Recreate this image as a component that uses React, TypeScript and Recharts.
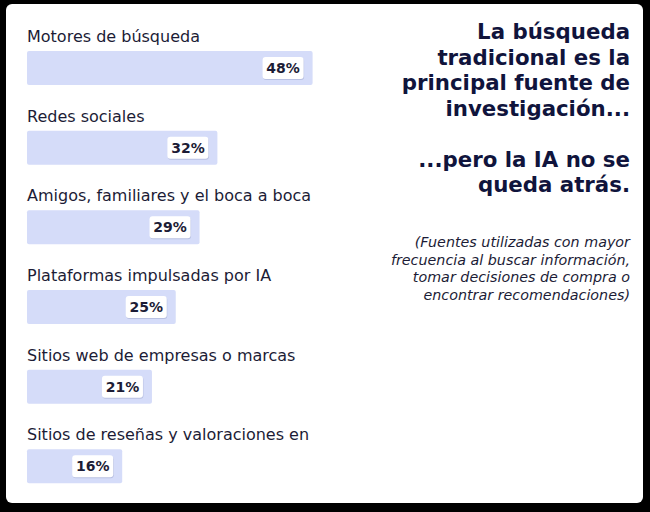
import React from "react"
import { BarChart, Bar, XAxis, YAxis, LabelList } from "recharts"

// Sources people use most (share of respondents, %)
const categories = [
  "Motores de búsqueda",
  "Redes sociales",
  "Amigos, familiares y el boca a boca",
  "Plataformas impulsadas por IA",
  "Sitios web de empresas o marcas",
  "Sitios de reseñas y valoraciones en",
]
const shares = [48, 32, 29, 25, 21, 16]

const titleLines = [
  "La búsqueda",
  "tradicional es la",
  "principal fuente de",
  "investigación...",
  "",
  "...pero la IA no se",
  "queda atrás.",
]
const noteLines = [
  "(Fuentes utilizadas con mayor",
  "frecuencia al buscar información,",
  "tomar decisiones de compra o",
  "encontrar recomendaciones)",
]

const data = categories.map((name, i) => ({ name, value: shares[i] }))

const FONT = "'DejaVu Sans', Verdana, sans-serif"
const BAR = "#d5dcf9"
const INK = "#1c1c36"
const NAVY = "#10143c"

const CategoryLabel = (props: any) => {
  const { x, y, value } = props
  return (
    <text x={x} y={y - 9} fill={INK} fontSize={16} fontFamily={FONT}>
      {value}
    </text>
  )
}

const ValueLabel = (props: any) => {
  const { x, y, width, height, value } = props
  const w = 41
  const h = 22
  const bx = x + width - 9 - w
  const by = y + (height - h) / 2
  return (
    <g>
      <rect x={bx + 0.5} y={by + 1} width={w} height={h} rx={3} fill="rgba(60,70,120,0.18)" />
      <rect x={bx} y={by} width={w} height={h} rx={3} fill="#ffffff" />
      <text
        x={bx + w / 2}
        y={by + h / 2 + 5}
        textAnchor="middle"
        fill={INK}
        fontSize={14}
        fontWeight="bold"
        fontFamily={FONT}
      >
        {value}%
      </text>
    </g>
  )
}

export default function App() {
  return (
    <div style={{ position: "fixed", left: 0, top: 0, width: 650, height: 512, background: "#000" }}>
      <div
        style={{
          position: "absolute",
          left: 6,
          top: 4,
          width: 637,
          height: 499,
          background: "#fff",
          borderRadius: 6,
        }}
      />
      <div style={{ position: "absolute", left: 0, top: 0 }}>
        <BarChart
          width={650}
          height={512}
          data={data}
          layout="vertical"
          margin={{ top: 28, right: 266, left: 27, bottom: 6 }}
        >
          <XAxis type="number" domain={[0, 60]} hide />
          <YAxis type="category" dataKey="name" hide />
          <Bar dataKey="value" fill={BAR} barSize={34} radius={2} isAnimationActive={false}>
            <LabelList dataKey="name" content={CategoryLabel} />
            <LabelList dataKey="value" content={ValueLabel} />
          </Bar>
        </BarChart>
      </div>
      <div
        style={{
          position: "absolute",
          right: 20,
          top: 19,
          textAlign: "right",
          fontFamily: FONT,
          fontWeight: "bold",
          fontSize: 21.3,
          lineHeight: "25.5px",
          color: NAVY,
          whiteSpace: "pre",
        }}
      >
        {titleLines.map((t, i) => (
          <div key={i}>{t || "\u00a0"}</div>
        ))}
      </div>
      <div
        style={{
          position: "absolute",
          right: 20,
          top: 234,
          textAlign: "right",
          fontFamily: FONT,
          fontStyle: "italic",
          fontSize: 14.3,
          lineHeight: "17.7px",
          color: INK,
          whiteSpace: "pre",
        }}
      >
        {noteLines.map((t, i) => (
          <div key={i}>{t}</div>
        ))}
      </div>
    </div>
  )
}
